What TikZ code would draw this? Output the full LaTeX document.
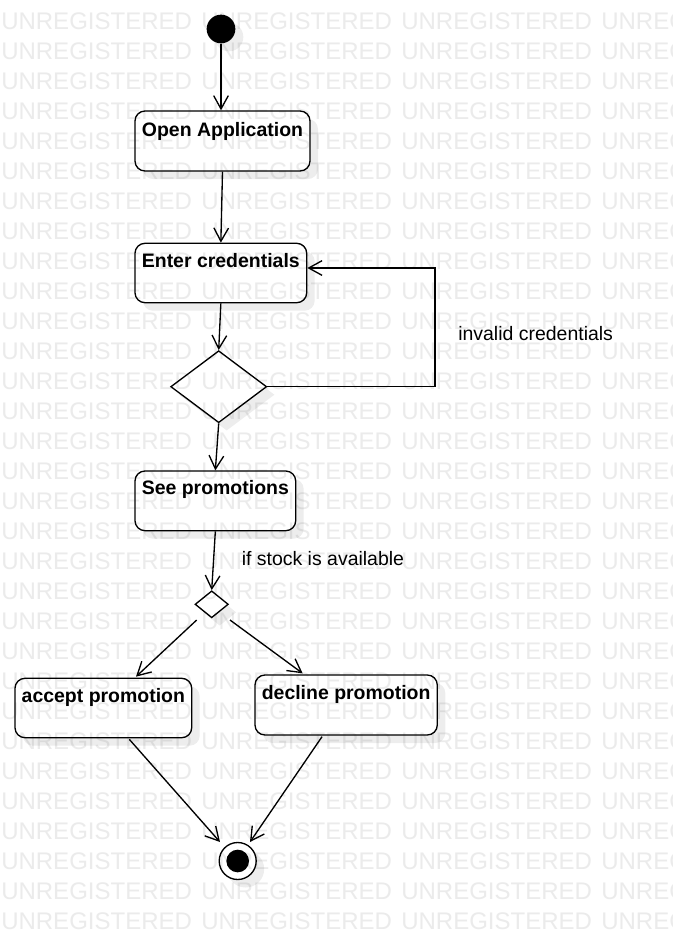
\documentclass[tikz,border=0pt]{standalone}
\usepackage{fontspec}
\setmainfont{Liberation Sans}
\usetikzlibrary{arrows.meta,shapes.geometric,fit,calc,shadows}
\tikzset{
  shade8/.style={drop shadow={shadow xshift=6pt, shadow yshift=-6pt, opacity=0.07, fill=black}},
  act/.style={draw, fill=white, line width=1pt, rounded corners=7.5pt, inner sep=0pt, shade8},
  lbl/.style={font=\fontsize{14.6}{17}\selectfont\bfseries, inner sep=0pt, anchor=base},
  guard/.style={font=\fontsize{14.6}{17}\selectfont, inner sep=0pt, anchor=base west},
  arr/.style={line width=1pt, -{Straight Barb[length=10pt,width=11pt,line width=1pt]}},
  dec/.style={draw, fill=white, diamond, line width=1pt, inner sep=0pt, shade8},
  wm/.style={font=\fontsize{18}{18}\selectfont, text=black!8, inner sep=0pt, anchor=base west},
}
\begin{document}
\begin{tikzpicture}[x=0.75pt,y=-0.75pt]
\useasboundingbox (0,0) rectangle (672,940);
\fill[white] (0,0) rectangle (672,940);
% start
\node[circle, fill=black, minimum size=21.5pt, inner sep=0pt, shade8] (start) at (221,29) {};
% activities
\node[act, fit={(135,111) (310,171)}] (oa) {};
\node[lbl] (oat) at ($(oa.north)+(0,26)$) {Open Application};
\node[act, fit={(135,243.3) (306.7,302.7)}] (ec) {};
\node[lbl] (ect) at ($(ec.north)+(0,24.5)$) {Enter credentials};
\node[dec, minimum width=72pt, minimum height=54pt] (d1) at (218.7,386.7) {};
\node[act, fit={(135,471) (295.7,530.7)}] (sp) {};
\node[lbl] (spt) at ($(sp.north)+(0,24)$) {See promotions};
\node[dec, minimum width=25pt, minimum height=20.25pt] (d2) at (211.7,604.3) {};
\node[act, fit={(15,678.3) (191.7,737.7)}] (ap) {};
\node[lbl] (apt) at ($(ap.north)+(0,24.4)$) {accept promotion};
\node[act, fit={(255,675) (437.3,735)}] (dp) {};
\node[lbl] (dpt) at ($(dp.north)+(0,25)$) {decline promotion};
% end
\node[circle, draw, fill=white, line width=1pt, minimum size=27.75pt, inner sep=0pt, shade8] (end) at (237.7,861) {};
\node[circle, fill=black, minimum size=17pt, inner sep=0pt] (endin) at (end.center) {};
% guards
\node[guard] (g1) at (458,340) {invalid credentials};
\node[guard] (g2) at (241.5,565) {if stock is available};
% connectors
\draw[arr] (start.south) -- (start.south |- oa.north);
\draw[arr] (oa.south) -- (ec.north);
\draw[arr] (ec.south) -- (d1.north);
\coordinate (loop) at (435,268);
\draw[arr] (d1.east) -| (loop) -- (ec.east |- loop);
\draw[arr] (d1.south) -- (sp.north);
\draw[arr] (sp.south) -- (d2.north);
\draw[arr] ($(d2.center)+(-15,15.7)$) -- ($(ap.north west)+(121.7,-1)$);
\draw[arr] ($(d2.center)+(18.3,15.7)$) -- ($(dp.north west)+(48.3,-1)$);
\draw[arr] ($(ap.south west)+(115,1)$) -- ($(end.center)+(-17.7,-19)$);
\draw[arr] ($(dp.south west)+(67.7,1)$) -- ($(end.center)+(12.3,-19)$);
% watermark on top, multiplied so dark strokes stay dark
\begin{scope}[blend mode=multiply]
\foreach \k in {0,...,30}{
  \foreach \i in {0,1,2,3}{
    \node[wm] (wm-\i-\k) at (200*\i+1, 29+30*\k) {UNREGISTERED};
  }
}
\end{scope}
\end{tikzpicture}
\end{document}
